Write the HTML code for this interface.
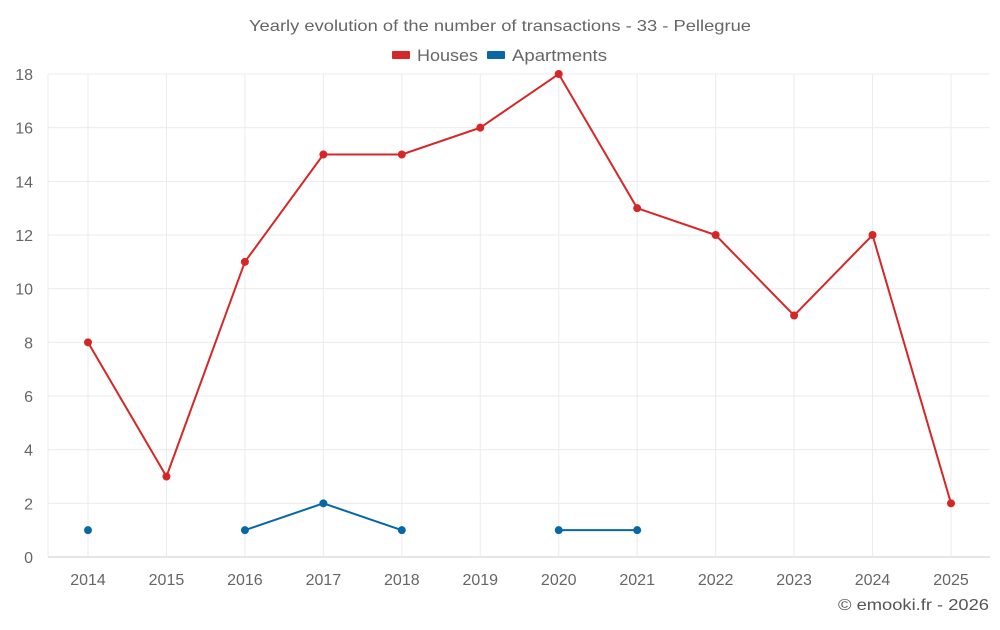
<!DOCTYPE html>
<html><head><meta charset="utf-8"><style>
body{margin:0;background:#fff;font-family:"Liberation Sans",sans-serif}
svg text{font-family:"Liberation Sans",sans-serif}
</style></head><body>
<svg id="c" width="1000" height="625"></svg>
<script>
const years=["2014","2015","2016","2017","2018","2019","2020","2021","2022","2023","2024","2025"];
const houses=[8,3,11,15,15,16,18,13,12,9,12,2];
const apartments=[1,null,1,2,1,null,1,1,null,null,null,null];
const yTicks=[0,2,4,6,8,10,12,14,16,18];
const svg=document.getElementById('c');
const NS='http://www.w3.org/2000/svg';
const L=48,R=990,T=74,B=557;
const xs=i=>88+i*(951-88)/(years.length-1);
const ys=v=>B-(v/18)*(B-T);
function mk(t,a,p){const e=document.createElementNS(NS,t);for(const k in a)e.setAttribute(k,a[k]);(p||svg).appendChild(e);return e;}
let t=mk('text',{x:249,y:31,'font-size':16,fill:'#666',textLength:502,lengthAdjust:'spacingAndGlyphs'});t.textContent='Yearly evolution of the number of transactions - 33 - Pellegrue';


yTicks.forEach(v=>{
 const g=mk('line',{x1:L,x2:R,y1:ys(v),y2:ys(v),stroke:v===0?'#ccc':'#ebebeb'});
 
 
 const l=mk('text',{x:33,y:ys(v)+6,'text-anchor':'end','font-size':16,fill:'#666'});l.textContent=v;
 
 
});
years.forEach((y,i)=>{
 const g=mk('line',{x1:xs(i),x2:xs(i),y1:T,y2:B,stroke:'#ebebeb'});
 
 
 const l=mk('text',{x:xs(i),y:585,'text-anchor':'middle','font-size':16,fill:'#666'});l.textContent=y;
 
 
});
mk('line',{x1:L,x2:L,y1:T,y2:B,stroke:'#ebebeb'});
function series(vals,color,name){
 let seg=[];const segs=[];
 vals.forEach((v,i)=>{if(v==null){if(seg.length)segs.push(seg);seg=[];}else seg.push([xs(i),ys(v)]);});
 if(seg.length)segs.push(seg);
 segs.forEach(s=>{if(s.length>1){const p=mk('polyline',{points:s.map(q=>q.join(',')).join(' '),fill:'none',stroke:color,'stroke-width':2});
  
  }});
 vals.forEach((v,i)=>{if(v!=null){const c=mk('circle',{cx:xs(i),cy:ys(v),r:4,fill:color});
  
  }});
}
series(houses,'#d62728','houses');
series(apartments,'#0868a6','apartments');
function leg(x,color,label,name,w){
 const r=mk('rect',{x:x,y:51,width:18,height:8,fill:color,rx:1});
 
 
 const l=mk('text',{x:x+25,y:61,'font-size':17,fill:'#666',textLength:w,lengthAdjust:'spacingAndGlyphs'});l.textContent=label;
 
 
}
leg(392,'#d62728','Houses','houses',61);
leg(487,'#0868a6','Apartments','apartments',95);
const cr=mk('text',{x:838,y:610,'font-size':16,fill:'#555',textLength:151,lengthAdjust:'spacingAndGlyphs'});cr.textContent='© emooki.fr - 2026';


</script>
</body></html>
